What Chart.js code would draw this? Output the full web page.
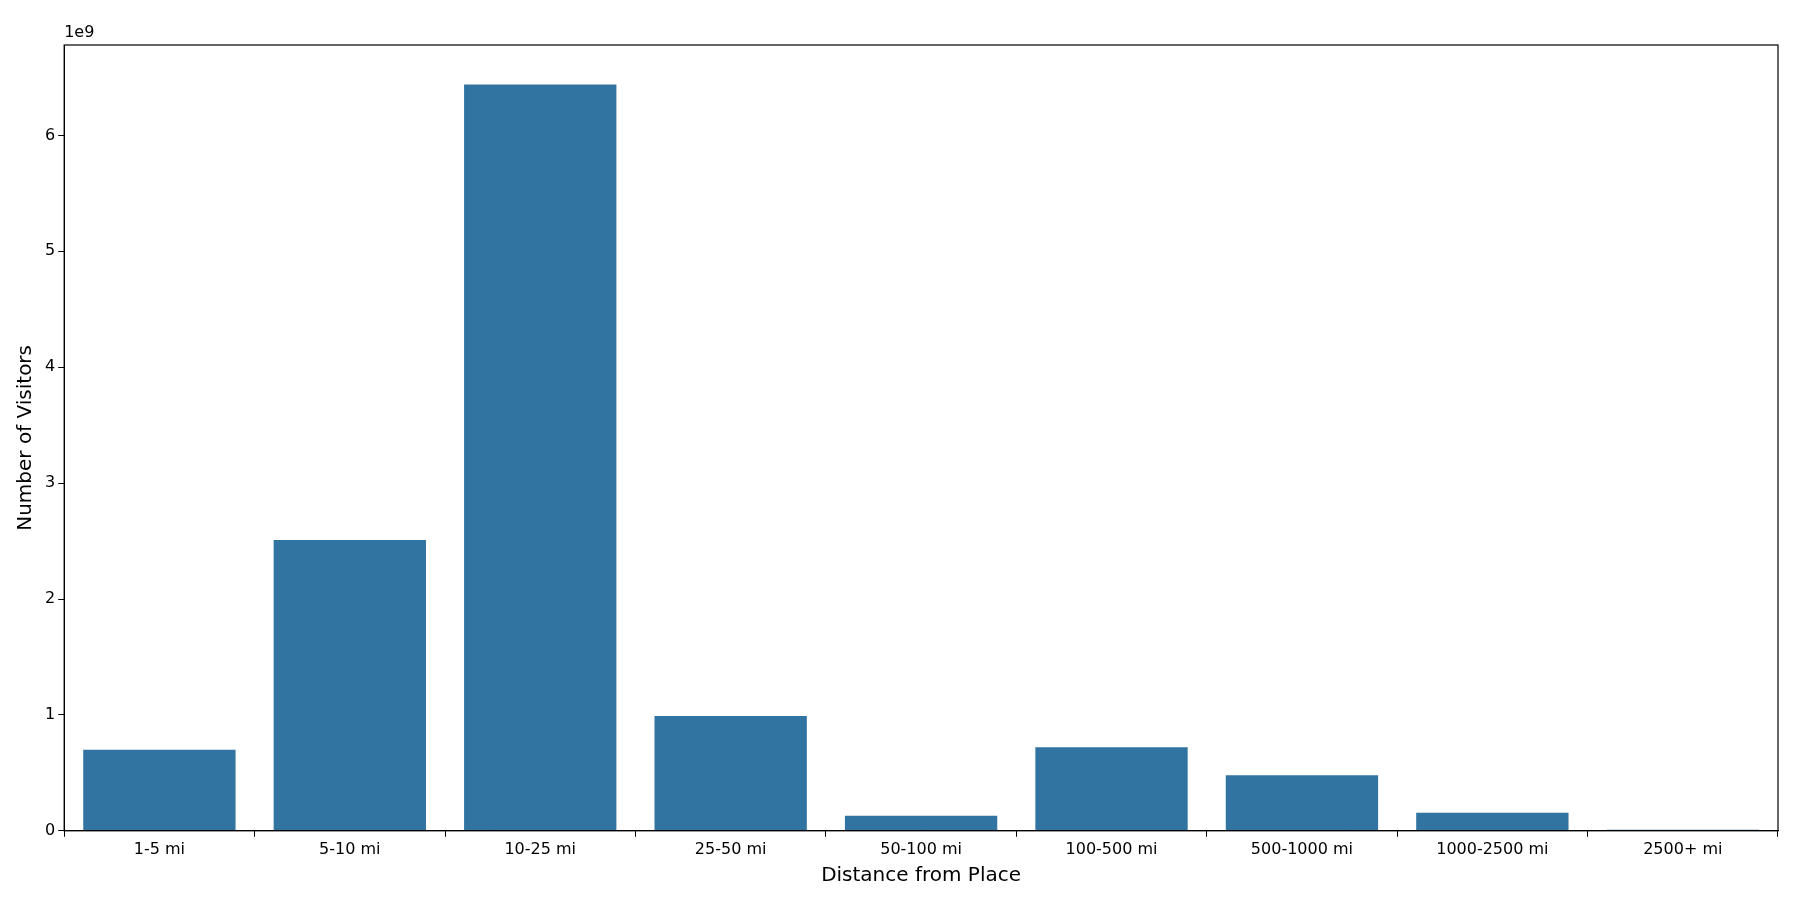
<!DOCTYPE html>
<html>
<head>
<meta charset="utf-8">
<script src="https://cdn.jsdelivr.net/npm/chart.js@4"></script>
<style>
  body { margin: 0; background: #fff; }
  #wrap { width: 1800px; height: 900px; }
</style>
</head>
<body>
<div id="wrap"><canvas id="myChart"></canvas></div>
<script>
var distances = ["1-5 mi", "5-10 mi", "10-25 mi", "25-50 mi", "50-100 mi", "100-500 mi", "500-1000 mi", "1000-2500 mi", "2500+ mi"];
var visitors = [0.70e9, 2.51e9, 6.44e9, 0.99e9, 0.13e9, 0.72e9, 0.48e9, 0.155e9, 0.01e9];
var yTicks = [0, 1e9, 2e9, 3e9, 4e9, 5e9, 6e9];

// frame around the plot plus the "1e9" offset label
var frame = {
  id: "frame",
  afterDraw: function (chart) {
    var a = chart.chartArea, c = chart.ctx;
    c.save();
    c.strokeStyle = "#000";
    c.lineWidth = 1.2;
    c.strokeRect(a.left, a.top, a.right - a.left, a.bottom - a.top);
    c.fillStyle = "#000";
    c.font = "16px 'DejaVu Sans'";
    c.textBaseline = "bottom";
    c.fillText("1e9", a.left, a.top - 4);
    c.restore();
  }
};

var ctx = document.getElementById("myChart").getContext("2d");
var myChart = new Chart(ctx, {
  type: "bar",
  data: {
    labels: distances,
    datasets: [{
      data: visitors,
      backgroundColor: "#3274a1",
      categoryPercentage: 0.8,
      barPercentage: 1.0
    }]
  },
  options: {
    responsive: true,
    maintainAspectRatio: false,
    animation: false,
    layout: { padding: { top: 45, right: 22, left: 10, bottom: 8 } },
    plugins: { legend: { display: false }, tooltip: { enabled: false } },
    scales: {
      x: {
        grid: { display: true, drawOnChartArea: false, tickLength: 6, color: "#000" },
        border: { color: "#000" },
        ticks: { color: "#000", font: { family: "DejaVu Sans", size: 16 } },
        title: { display: true, text: "Distance from Place", color: "#000", font: { family: "DejaVu Sans", size: 20 }, padding: { top: 2 } }
      },
      y: {
        min: 0,
        max: 6.78e9,
        afterBuildTicks: function (axis) {
          axis.ticks = yTicks.map(function (v) { return { value: v }; });
        },
        grid: { display: true, drawOnChartArea: false, tickLength: 6, color: "#000" },
        border: { color: "#000" },
        ticks: {
          color: "#000",
          font: { family: "DejaVu Sans", size: 16 },
          callback: function (v) { return String(v / 1e9); }
        },
        title: { display: true, text: "Number of Visitors", color: "#000", font: { family: "DejaVu Sans", size: 20 } }
      }
    }
  },
  plugins: [frame]
});
</script>
</body>
</html>
